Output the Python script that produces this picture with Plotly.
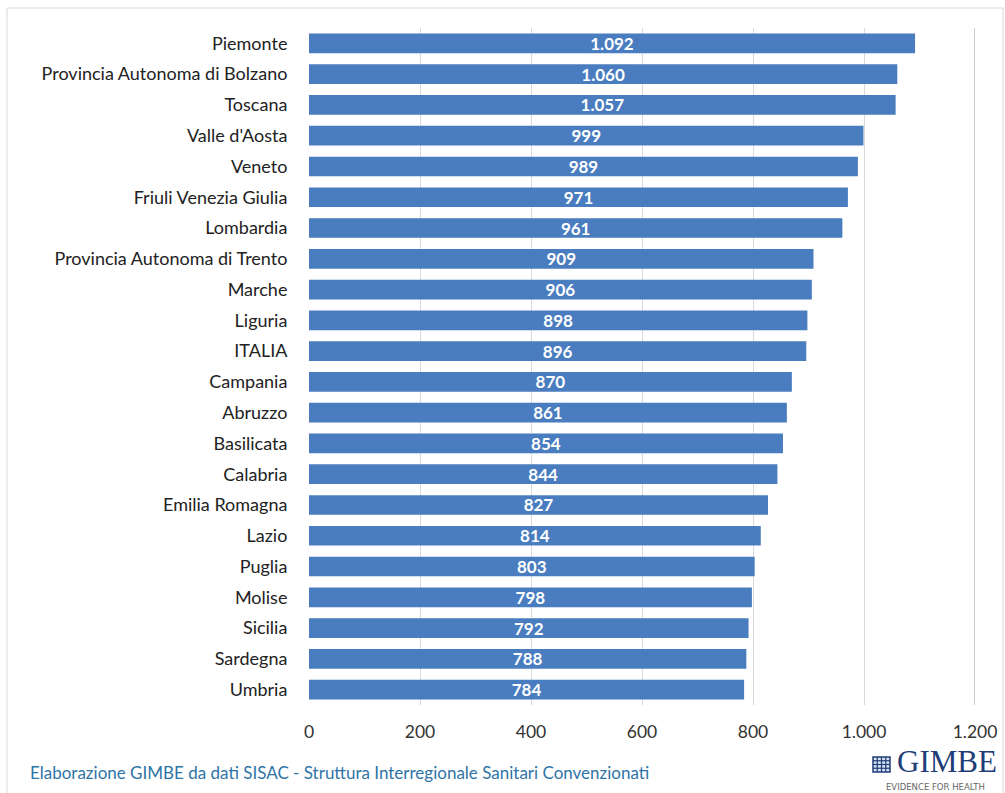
import plotly.graph_objects as go

regions = [
    "Piemonte", "Provincia Autonoma di Bolzano", "Toscana", "Valle d'Aosta",
    "Veneto", "Friuli Venezia Giulia", "Lombardia",
    "Provincia Autonoma di Trento", "Marche", "Liguria", "ITALIA",
    "Campania", "Abruzzo", "Basilicata", "Calabria", "Emilia Romagna",
    "Lazio", "Puglia", "Molise", "Sicilia", "Sardegna", "Umbria",
]
values = [1092, 1060, 1057, 999, 989, 971, 961, 909, 906, 898, 896,
          870, 861, 854, 844, 827, 814, 803, 798, 792, 788, 784]
x_ticks = [0, 200, 400, 600, 800, 1000, 1200]

W, H = 1005, 793
L, R, T, B = 309, 30, 28, 88
pw, ph = W - L - R, H - T - B
FONT = "Lato, 'Open Sans', sans-serif"


def px(x):
    return (x - L) / pw


def py(y):
    return 1 - (y - T) / ph


fig = go.Figure(go.Bar(
    x=values,
    y=regions,
    orientation="h",
    marker=dict(color="#4a7dbf", line=dict(width=0)),
    width=0.64,
    texttemplate="%{x:,}",
    textposition="inside",
    insidetextanchor="middle",
    constraintext="none",
    textfont=dict(family=FONT, size=17, color="white", weight="bold"),
    hoverinfo="skip",
))

shapes = [
    # outer frame
    dict(type="rect", xref="paper", yref="paper",
         x0=px(7), x1=px(1003), y0=py(800), y1=py(8),
         line=dict(color="#d9d9d9", width=1), fillcolor="rgba(0,0,0,0)",
         layer="below"),
    # right edge of the plotting area
    dict(type="line", xref="x", yref="paper", x0=x_ticks[-1],
         x1=x_ticks[-1], y0=0, y1=1,
         line=dict(color="#cfcfcf", width=2), layer="below"),
]

# logo mark: small square with a grid
lx0, lx1, ly0, ly1 = 873, 890, 757, 772
shapes.append(dict(type="rect", xref="paper", yref="paper",
                   x0=px(lx0), x1=px(lx1), y0=py(ly1), y1=py(ly0),
                   line=dict(color="#1f3d78", width=1.5),
                   fillcolor="#d8e1ef"))
for i in range(1, 4):
    gx = lx0 + i * (lx1 - lx0) / 4
    gy = ly0 + i * (ly1 - ly0) / 4
    shapes.append(dict(type="line", xref="paper", yref="paper",
                       x0=px(gx), x1=px(gx), y0=py(ly1), y1=py(ly0),
                       line=dict(color="#1f3d78", width=1.2)))
    shapes.append(dict(type="line", xref="paper", yref="paper",
                       x0=px(lx0), x1=px(lx1), y0=py(gy), y1=py(gy),
                       line=dict(color="#1f3d78", width=1.2)))

annotations = [
    dict(text="Elaborazione GIMBE da dati SISAC - Struttura Interregionale "
              "Sanitari Convenzionati",
         xref="paper", yref="paper", x=px(28), y=py(772),
         xanchor="left", yanchor="middle", showarrow=False,
         font=dict(family=FONT, size=17, color="#2f74a6")),
    dict(text="GIMBE", xref="paper", yref="paper", x=px(998), y=py(780),
         xanchor="right", yanchor="bottom", showarrow=False,
         borderpad=0,
         font=dict(family="'Liberation Serif', 'DejaVu Serif', serif",
                   size=31, color="#1f3d78")),
    dict(text="EVIDENCE FOR HEALTH", xref="paper", yref="paper",
         x=px(935), y=py(781), xanchor="center", yanchor="top",
         showarrow=False, borderpad=0,
         font=dict(family="'DejaVu Sans', sans-serif", size=8.5,
                   color="#666666")),
]

fig.update_layout(
    width=W, height=H,
    margin=dict(l=L, r=R, t=T, b=B, autoexpand=False),
    paper_bgcolor="white", plot_bgcolor="white",
    separators=",.",
    showlegend=False,
    bargap=0.36,
    shapes=shapes,
    annotations=annotations,
    xaxis=dict(
        range=[0, 1200], tickvals=x_ticks, tickformat=",",
        showgrid=True, gridcolor="#d9d9d9", gridwidth=1,
        zeroline=False, showline=False, automargin=False,
        ticks="outside", ticklen=11, tickcolor="rgba(0,0,0,0)",
        tickfont=dict(family=FONT, size=17.5, color="#333333"),
        fixedrange=True,
    ),
    yaxis=dict(
        autorange="reversed",
        showgrid=False, zeroline=False, showline=False, automargin=False,
        ticks="outside", ticklen=17, tickcolor="rgba(0,0,0,0)",
        tickfont=dict(family=FONT, size=18, color="#222222"),
        fixedrange=True,
    ),
)

fig.write_html("out.html")
